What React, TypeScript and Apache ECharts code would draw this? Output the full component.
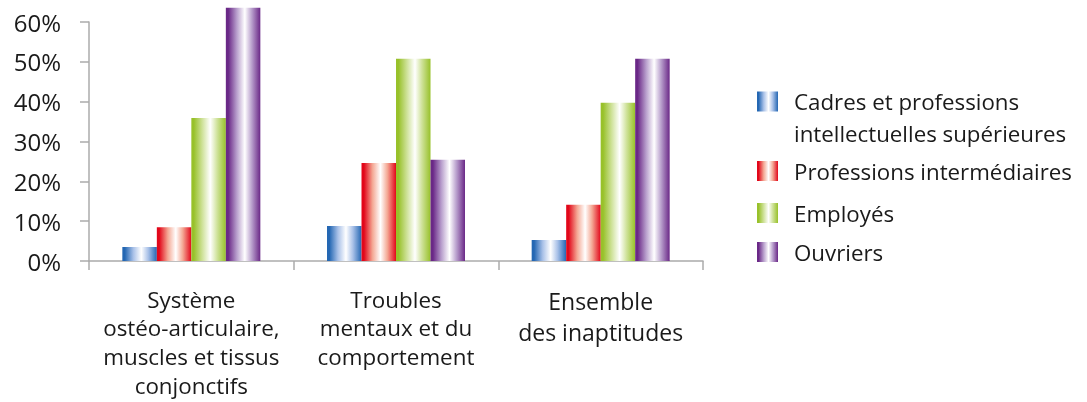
import React, { useEffect, useRef } from "react";
import * as echarts from "echarts";

const categories = [
  "Système\nostéo-articulaire,\nmuscles et tissus\nconjonctifs",
  "Troubles\nmentaux et du\ncomportement",
  "Ensemble\ndes inaptitudes",
];
const seriesNames = [
  "Cadres et professions\nintellectuelles supérieures",
  "Professions intermédiaires",
  "Employés",
  "Ouvriers",
];
const cadres = [3.5, 8.8, 5.3];
const intermediaires = [8.5, 24.6, 14.1];
const employes = [35.9, 50.8, 39.7];
const ouvriers = [63.6, 25.4, 50.8];
const yTicks = [0, 10, 20, 30, 40, 50, 60];

const FONT = "Open Sans";
const TEXT = "#1a1a1a";

function grad(dark: string, mid: string, right: string) {
  return new echarts.graphic.LinearGradient(0, 0, 1, 0, [
    { offset: 0, color: dark },
    { offset: 0.07, color: dark },
    { offset: 0.32, color: mid },
    { offset: 0.55, color: "#ffffff" },
    { offset: 0.75, color: mid },
    { offset: 1, color: dark },
  ]);
}

const palette = [
  ["#2467b3", "#a9c1e8"],
  ["#e2071a", "#f4a894"],
  ["#98c12a", "#cfe29a"],
  ["#6a2887", "#b9a0cd"],
];

export default function App() {
  const ref = useRef<HTMLDivElement>(null);
  useEffect(() => {
    if (!ref.current) return;
    const chart = echarts.init(ref.current, undefined, { renderer: "svg" });
    const values = [cadres, intermediaires, employes, ouvriers];
    const colors = palette.map(([d, m]) => grad(d, m, d));

    // Legend drawn by hand so the icon of the two-line item aligns with its first line
    const legendX = 757;
    const legendCenters = [101.5, 171, 213, 252];
    const legendEls: any[] = [];
    seriesNames.forEach((n, i) => {
      const c = legendCenters[i];
      legendEls.push({
        type: "rect",
        shape: { x: legendX, y: c - 10, width: 21, height: 20 },
        style: { fill: grad(palette[i][0], palette[i][1], palette[i][0]) },
        silent: true,
      });
      legendEls.push({
        type: "text",
        x: legendX + 37,
        y: c - 16,
        style: {
          text: n,
          fontFamily: FONT,
          fontSize: 22.3,
          lineHeight: 32,
          fill: TEXT,
          align: "left",
          verticalAlign: "top",
        },
        silent: true,
      });
    });

    chart.setOption({
      animation: false,
      textStyle: { fontFamily: FONT },
      grid: { left: 89, right: 384, top: 22, bottom: 141, containLabel: false },
      graphic: legendEls,
      xAxis: {
        type: "category",
        data: categories,
        axisLine: { lineStyle: { color: "#ababab", width: 1.5 } },
        axisTick: { show: true, length: 9, lineStyle: { color: "#ababab", width: 1.5 } },
        axisLabel: {
          interval: 0,
          margin: 24,
          color: TEXT,
          fontFamily: FONT,
          fontSize: 22.4,
          lineHeight: 28.6,
          formatter: (v: string) =>
            v.startsWith("Ensemble")
              ? v.split("\n").map((l) => `{big|${l}}`).join("\n")
              : v,
          rich: {
            big: { fontFamily: FONT, fontSize: 23, lineHeight: 31, color: TEXT },
          },
        },
      },
      yAxis: {
        type: "value",
        min: yTicks[0],
        max: yTicks[yTicks.length - 1],
        interval: 10,
        axisLine: { show: true, lineStyle: { color: "#ababab", width: 1.5 } },
        axisTick: { show: true, length: 9, lineStyle: { color: "#ababab", width: 1.5 } },
        splitLine: { show: false },
        axisLabel: {
          formatter: "{value}%",
          margin: 28,
          color: TEXT,
          fontFamily: FONT,
          fontSize: 24,
        },
      },
      series: seriesNames.map((n, i) => ({
        name: n,
        type: "bar",
        data: values[i],
        barWidth: 34.5,
        barGap: "0%",
        clip: false,
        itemStyle: { color: colors[i] },
      })),
    });
    return () => chart.dispose();
  }, []);
  return (
    <div
      ref={ref}
      style={{ position: "fixed", left: 0, top: 0, width: 1087, height: 402 }}
    />
  );
}
